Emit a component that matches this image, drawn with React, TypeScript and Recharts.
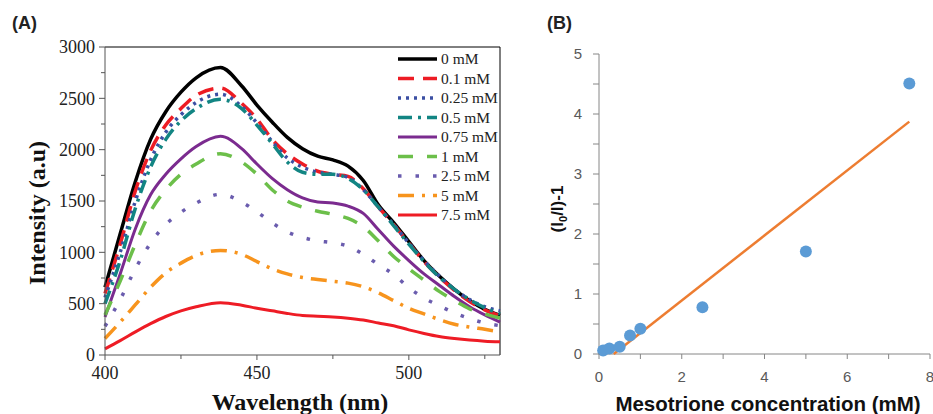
import { Line, LineChart, ReferenceLine, Scatter, ScatterChart, XAxis, YAxis } from 'recharts';

// (A) emission spectra, wavelength in nm
const WAVELENGTHS = [400, 405, 410, 415, 420, 425, 430, 438, 445, 450, 455, 460, 465, 470, 475, 480, 485, 490, 495, 500, 505, 510, 515, 520, 525, 530];
const I_0MM = [660, 1180, 1690, 2100, 2370, 2560, 2700, 2800, 2620, 2435, 2270, 2120, 2010, 1937, 1900, 1840, 1700, 1460, 1290, 1105, 920, 770, 640, 530, 445, 385];
const I_01MM = [600, 1080, 1600, 1990, 2240, 2400, 2530, 2600, 2450, 2300, 2100, 1960, 1860, 1790, 1760, 1740, 1620, 1440, 1270, 1090, 910, 760, 630, 520, 440, 380];
const I_025MM = [560, 1000, 1500, 1900, 2170, 2340, 2460, 2540, 2420, 2260, 2080, 1920, 1830, 1780, 1760, 1730, 1610, 1440, 1270, 1090, 920, 770, 640, 540, 470, 430];
const I_05MM = [500, 920, 1430, 1830, 2100, 2280, 2400, 2490, 2400, 2240, 2060, 1880, 1780, 1760, 1760, 1720, 1610, 1440, 1260, 1080, 910, 760, 640, 540, 460, 400];
const I_075MM = [370, 790, 1230, 1560, 1760, 1910, 2030, 2130, 2010, 1860, 1720, 1610, 1530, 1490, 1480, 1450, 1380, 1220, 1060, 920, 790, 680, 570, 470, 390, 320];
const I_1MM = [390, 720, 1080, 1400, 1610, 1760, 1860, 1960, 1880, 1760, 1610, 1500, 1440, 1400, 1370, 1330, 1250, 1110, 960, 840, 730, 620, 530, 450, 400, 360];
const I_25MM = [280, 540, 840, 1090, 1270, 1390, 1480, 1565, 1490, 1395, 1287, 1200, 1145, 1112, 1093, 1060, 980, 880, 785, 656, 555, 480, 410, 355, 312, 285];
const I_5MM = [160, 320, 490, 660, 800, 895, 970, 1018, 980, 910, 840, 790, 755, 735, 718, 700, 665, 605, 530, 455, 400, 345, 300, 272, 250, 225];
const I_75MM = [60, 140, 225, 305, 375, 430, 470, 510, 485, 455, 430, 405, 385, 377, 370, 358, 340, 312, 285, 245, 210, 180, 160, 145, 135, 130];

const Y_TICKS_A = [0, 250, 500, 750, 1000, 1250, 1500, 1750, 2000, 2250, 2500, 2750, 3000];
const X_TICKS_A = [400, 425, 450, 475, 500, 525];

// (B) Stern-Volmer plot
const CONC = [0.1, 0.25, 0.5, 0.75, 1, 2.5, 5, 7.5];
const QUENCH = [0.06, 0.09, 0.12, 0.31, 0.42, 0.78, 1.71, 4.51];
const Y_TICKS_B = [0, 0.5, 1, 1.5, 2, 2.5, 3, 3.5, 4, 4.5, 5];
const X_TICKS_B = [0, 1, 2, 3, 4, 5, 6, 7, 8];

const SERIES = [
  { key: 's0', name: '0 mM', values: I_0MM, color: '#000000', width: 3.5, dash: undefined },
  { key: 's01', name: '0.1 mM', values: I_01MM, color: '#ed1c24', width: 3.5, dash: '16 9' },
  { key: 's025', name: '0.25 mM', values: I_025MM, color: '#3b4fa3', width: 3.5, dash: '3 5' },
  { key: 's05', name: '0.5 mM', values: I_05MM, color: '#128583', width: 3.5, dash: '14 6 3 6' },
  { key: 's075', name: '0.75 mM', values: I_075MM, color: '#7b2b8f', width: 3, dash: undefined },
  { key: 's1', name: '1 mM', values: I_1MM, color: '#6cbf4a', width: 3.5, dash: '15 14' },
  { key: 's25', name: '2.5 mM', values: I_25MM, color: '#6a5cae', width: 3.5, dash: '3.5 14' },
  { key: 's5', name: '5 mM', values: I_5MM, color: '#f7941d', width: 3.5, dash: '16 8 3 8' },
  { key: 's75', name: '7.5 mM', values: I_75MM, color: '#ee1c25', width: 3, dash: undefined },
];

const spectra = WAVELENGTHS.map((wl, i) => {
  const row: Record<string, number> = { wl };
  SERIES.forEach((s) => (row[s.key] = s.values[i]));
  return row;
});

const points = CONC.map((x, i) => ({ x, y: QUENCH[i] }));

// least-squares trendline, drawn from where it crosses 0 up to the last point
const n = CONC.length;
const mx = CONC.reduce((a, b) => a + b, 0) / n;
const my = QUENCH.reduce((a, b) => a + b, 0) / n;
const slope =
  CONC.reduce((a, x, i) => a + (x - mx) * (QUENCH[i] - my), 0) /
  CONC.reduce((a, x) => a + (x - mx) * (x - mx), 0);
const icept = my - slope * mx;
const xStart = -icept / slope;
const xEnd = CONC[CONC.length - 1];
const trend = [
  { x: xStart, y: 0 },
  { x: xEnd, y: slope * xEnd + icept },
];

const SERIF = '"Liberation Serif", "Times New Roman", serif';
const SANS = '"Liberation Sans", Arial, sans-serif';

const YTickA = ({ x, y, payload }: any) => {
  const major = payload.value % 500 === 0;
  return (
    <g>
      <line x1={x} x2={x - (major ? 6 : 4)} y1={y} y2={y} stroke="#555" />
      {major && (
        <text x={x - 10} y={y} dy="0.35em" textAnchor="end" fontFamily={SERIF} fontSize={18} fill="#222">
          {payload.value}
        </text>
      )}
    </g>
  );
};

const XTickA = ({ x, y, payload }: any) => {
  const major = payload.value % 50 === 0;
  return (
    <g>
      <line x1={x} x2={x} y1={y} y2={y + (major ? 5 : 4)} stroke="#555" />
      {major && (
        <text x={x} y={y + 24} textAnchor="middle" fontFamily={SERIF} fontSize={18} fill="#222">
          {payload.value}
        </text>
      )}
    </g>
  );
};

const YTickB = ({ x, y, payload }: any) => {
  const major = payload.value % 1 === 0;
  return (
    <g>
      <line x1={x} x2={x - 6} y1={y} y2={y} stroke="#868686" />
      {major && (
        <text x={x - 17} y={y} dy="0.35em" textAnchor="end" fontFamily={SANS} fontSize={15} fill="#595959">
          {payload.value}
        </text>
      )}
    </g>
  );
};

const XTickB = ({ x, y, payload }: any) => {
  const labelled = payload.value % 2 === 0;
  return (
    <g>
      <line x1={x} x2={x} y1={y} y2={y + 5} stroke="#868686" />
      {labelled && (
        <text x={x} y={y + 28} textAnchor="middle" fontFamily={SANS} fontSize={15} fill="#595959">
          {payload.value}
        </text>
      )}
    </g>
  );
};

export default function App() {
  return (
    <div style={{ position: 'absolute', left: 0, top: 0, width: 933, height: 414, background: '#fff' }}>
      <div style={{ position: 'absolute', left: 0, top: 0 }}>
        <LineChart width={540} height={414} data={spectra} margin={{ top: 47, right: 40, bottom: 0, left: 0 }}>
          <XAxis
            dataKey="wl"
            type="number"
            domain={[400, 530]}
            ticks={X_TICKS_A}
            interval={0}
            height={59}
            stroke="#555"
            tickSize={0}
            tickMargin={0}
            tickLine={false}
            tick={<XTickA />}
          />
          <YAxis
            type="number"
            domain={[0, 3000]}
            ticks={Y_TICKS_A}
            interval={0}
            width={105}
            stroke="#555"
            tickSize={0}
            tickMargin={0}
            tickLine={false}
            tick={<YTickA />}
          />
          <ReferenceLine y={3000} stroke="#000" strokeWidth={1} />
          <ReferenceLine x={530} stroke="#000" strokeWidth={1} />
          {SERIES.map((s) => (
            <Line
              key={s.key}
              dataKey={s.key}
              name={s.name}
              type="monotone"
              stroke={s.color}
              strokeWidth={s.width}
              strokeDasharray={s.dash}
              dot={false}
              activeDot={false}
              isAnimationActive={false}
            />
          ))}
        </LineChart>
      </div>

      <div style={{ position: 'absolute', left: 540, top: 0 }}>
        <ScatterChart width={393} height={414} margin={{ top: 54, right: 3, bottom: 0, left: 0 }}>
          <XAxis
            dataKey="x"
            type="number"
            domain={[0, 8]}
            ticks={X_TICKS_B}
            interval={0}
            height={60}
            stroke="#868686"
            tickSize={0}
            tickMargin={0}
            tickLine={false}
            tick={<XTickB />}
          />
          <YAxis
            dataKey="y"
            type="number"
            domain={[0, 5]}
            ticks={Y_TICKS_B}
            interval={0}
            width={59}
            stroke="#868686"
            tickSize={0}
            tickMargin={0}
            tickLine={false}
            tick={<YTickB />}
          />
          <Scatter
            data={trend}
            line={{ stroke: '#ed7d31', strokeWidth: 2.5 }}
            shape={() => <g />}
            isAnimationActive={false}
          />
          <Scatter
            data={points}
            shape={(p: any) => <circle cx={p.cx} cy={p.cy} r={6} fill="#5b9bd5" />}
            isAnimationActive={false}
          />
        </ScatterChart>
      </div>

      {/* titles, axis labels and the legend of (A) */}
      <svg width={933} height={414} style={{ position: 'absolute', left: 0, top: 0, pointerEvents: 'none' }}>
        <text x={12} y={29} fontFamily={SANS} fontWeight="bold" fontSize={18} fill="#222">(A)</text>
        <text x={547} y={29} fontFamily={SANS} fontWeight="bold" fontSize={18} fill="#222">(B)</text>

        <text
          transform="translate(37,213) rotate(-90)"
          textAnchor="middle"
          dy="0.35em"
          fontFamily={SERIF}
          fontWeight="bold"
          fontSize={24}
          fill="#111"
        >
          Intensity (a.u)
        </text>
        <text x={300} y={410} textAnchor="middle" fontFamily={SERIF} fontWeight="bold" fontSize={24} fill="#111">
          Wavelength (nm)
        </text>

        <text
          transform="translate(557,209) rotate(-90)"
          textAnchor="middle"
          dy="0.35em"
          fontFamily={SANS}
          fontWeight="bold"
          fontSize={17}
          fill="#111"
        >
          (I<tspan fontSize={11} dy={4}>0</tspan>
          <tspan dy={-4}>/I)-1</tspan>
        </text>
        <text x={768} y={411} textAnchor="middle" fontFamily={SANS} fontWeight="bold" fontSize={20.5} fill="#111">
          Mesotrione concentration (mM)
        </text>

        {SERIES.map((s, i) => {
          const y = 59 + i * 19.5;
          return (
            <g key={s.key}>
              <line x1={398} x2={437} y1={y} y2={y} stroke={s.color} strokeWidth={s.width} strokeDasharray={s.dash} />
              <text x={441} y={y} dy="0.35em" fontFamily={SERIF} fontSize={15.5} fill="#222">
                {s.name}
              </text>
            </g>
          );
        })}
      </svg>
    </div>
  );
}
